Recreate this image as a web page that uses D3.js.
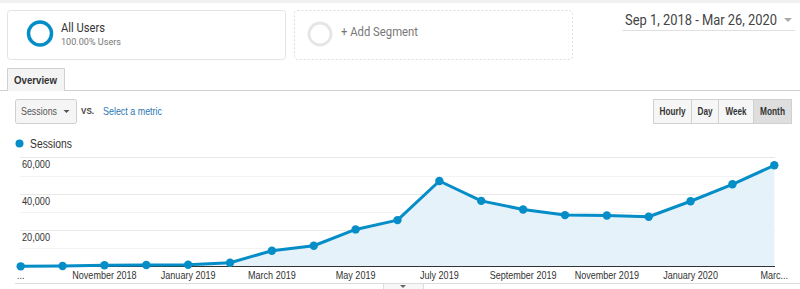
<!DOCTYPE html>
<html>
<head>
<meta charset="utf-8">
<script src="https://cdn.jsdelivr.net/npm/d3@7"></script>
<style>
  body { margin: 0; background: #fff; }
  svg { display: block; }
</style>
</head>
<body>
<script>
// monthly sessions, Sep 2018 - Mar 2020
var months = ["Sep 2018", "Oct 2018", "Nov 2018", "Dec 2018", "Jan 2019", "Feb 2019",
  "Mar 2019", "Apr 2019", "May 2019", "Jun 2019", "Jul 2019", "Aug 2019", "Sep 2019",
  "Oct 2019", "Nov 2019", "Dec 2019", "Jan 2020", "Feb 2020", "Mar 2020"];
var sessions = [200, 400, 800, 900, 1100, 2200, 8750, 11500, 20450, 25550, 47000,
  36100, 31400, 28300, 28100, 27400, 35900, 45200, 55600];
// x axis labels (every other month, the ends get cut off)
var xLabels = ["...", "", "November 2018", "", "January 2019", "", "March 2019", "",
  "May 2019", "", "July 2019", "", "September 2019", "", "November 2019", "",
  "January 2020", "", "Marc..."];
var yTicks = [20000, 40000, 60000];
var gridTicks = [10000, 20000, 30000, 40000, 50000, 60000];

const W = 800, H = 289;
const blue = "#058dc7";

const svg = d3.select("body").append("svg")
  .attr("width", W)
  .attr("height", H);

// squeeze a text to the width it has in the screenshot
function fit(sel, w) {
  return sel.attr("textLength", w).attr("lengthAdjust", "spacingAndGlyphs");
}

// --- header bits ---
svg.append("rect").attr("x", 0).attr("y", 0).attr("width", W).attr("height", 3).attr("fill", "#f0f0f0");

// All Users segment box
svg.append("rect").attr("x", 7.5).attr("y", 10.5).attr("width", 278).attr("height", 49)
  .attr("rx", 3).attr("fill", "#fff").attr("stroke", "#e3e3e3");
svg.append("circle").attr("cx", 40).attr("cy", 33.5).attr("r", 11.5)
  .attr("fill", "none").attr("stroke", blue).attr("stroke-width", 3.5);
fit(svg.append("text").attr("x", 61).attr("y", 32).text("All Users")
  .attr("font-family", "Roboto").attr("font-size", 12.5).attr("fill", "#333"), 44);
fit(svg.append("text").attr("x", 61).attr("y", 44.5).text("100.00% Users")
  .attr("font-family", "Roboto").attr("font-size", 9.5).attr("fill", "#777"), 60);

// Add Segment box
svg.append("rect").attr("x", 294.5).attr("y", 10.5).attr("width", 278).attr("height", 49)
  .attr("rx", 3).attr("fill", "#fff").attr("stroke", "#dcdcdc").attr("stroke-dasharray", "2,2");
svg.append("circle").attr("cx", 320).attr("cy", 34).attr("r", 11)
  .attr("fill", "none").attr("stroke", "#e6e6e6").attr("stroke-width", 3);
fit(svg.append("text").attr("x", 341).attr("y", 36).text("+ Add Segment")
  .attr("font-family", "Roboto").attr("font-size", 12.5).attr("fill", "#777"), 77);

// date range
fit(svg.append("text").attr("x", 625).attr("y", 25).text("Sep 1, 2018 - Mar 26, 2020")
  .attr("font-family", "Roboto").attr("font-size", 14).attr("fill", "#444"), 152);
svg.append("path").attr("d", "M784,18 L792,18 L788,22 Z").attr("fill", "#aaa");
svg.append("line").attr("x1", 622).attr("x2", 795).attr("y1", 30.5).attr("y2", 30.5).attr("stroke", "#e0e0e0");

// Overview tab
svg.append("line").attr("x1", 0).attr("x2", W).attr("y1", 90.5).attr("y2", 90.5).attr("stroke", "#d0d0d0");
svg.append("path").attr("d", "M7.5,91 L7.5,68.5 L64.5,68.5 L64.5,91")
  .attr("fill", "#f4f4f4").attr("stroke", "#d0d0d0");
fit(svg.append("text").attr("x", 14).attr("y", 84).text("Overview")
  .attr("font-family", "Liberation Sans").attr("font-size", 11.5).attr("font-weight", "bold").attr("fill", "#333"), 43);

// metric dropdown
svg.append("rect").attr("x", 15.5).attr("y", 99.5).attr("width", 61).attr("height", 24)
  .attr("rx", 2).attr("fill", "#f5f5f5").attr("stroke", "#cfcfcf");
fit(svg.append("text").attr("x", 21).attr("y", 115).text("Sessions")
  .attr("font-family", "Liberation Sans").attr("font-size", 10.5).attr("fill", "#555"), 36);
svg.append("path").attr("d", "M63.5,110 L69.5,110 L66.5,113 Z").attr("fill", "#555");
fit(svg.append("text").attr("x", 81).attr("y", 114).text("VS.")
  .attr("font-family", "Liberation Sans").attr("font-size", 9).attr("font-weight", "bold").attr("fill", "#444"), 13);
fit(svg.append("text").attr("x", 103).attr("y", 115).text("Select a metric")
  .attr("font-family", "Liberation Sans").attr("font-size", 10.5).attr("fill", "#2b76b3"), 59);

// Hourly / Day / Week / Month
var btns = [["Hourly", 653, 691, 26], ["Day", 691, 718, 15], ["Week", 718, 753, 21], ["Month", 753, 791, 25]];
btns.forEach(function(b, i) {
  svg.append("rect").attr("x", b[1] + 0.5).attr("y", 99.5).attr("width", b[2] - b[1]).attr("height", 24)
    .attr("fill", i == 3 ? "#dedede" : "#f6f6f6").attr("stroke", "#d0d0d0");
  fit(svg.append("text").attr("x", (b[1] + b[2]) / 2 + 0.5 - b[3] / 2).attr("y", 115).text(b[0])
    .attr("font-family", "Liberation Sans").attr("font-size", 10)
    .attr("font-weight", "bold").attr("fill", "#333"), b[3]);
});

// legend
svg.append("circle").attr("cx", 19.5).attr("cy", 143.5).attr("r", 4).attr("fill", blue);
fit(svg.append("text").attr("x", 30).attr("y", 148).text("Sessions")
  .attr("font-family", "Liberation Sans").attr("font-size", 12).attr("fill", "#333"), 42);

// --- chart ---
var x = d3.scalePoint().domain(months).range([20.7, 774.3]);
var y = d3.scaleLinear().domain([0, 60000]).range([266.7, 157.3]);

var g = svg.append("g");

// gridlines
g.selectAll("line.grid").data(gridTicks).enter().append("line")
  .attr("class", "grid")
  .attr("x1", 20).attr("x2", 775)
  .attr("y1", function(d) { return Math.round(y(d)) + 0.5; })
  .attr("y2", function(d) { return Math.round(y(d)) + 0.5; })
  .attr("stroke", function(d) { return d % 20000 == 0 ? "#e8e8e8" : "#f3f3f3"; });

// area
var area = d3.area()
  .x(function(d, i) { return x(months[i]); })
  .y0(y(0))
  .y1(function(d) { return y(d); });
g.append("path").datum(sessions).attr("d", area).attr("fill", "#e6f2f9");

// baseline
g.append("line").attr("x1", 20).attr("x2", 775).attr("y1", 266.5).attr("y2", 266.5)
  .attr("stroke", "#333").attr("stroke-width", 1);

// y labels
g.selectAll("text.ylab").data(yTicks).enter().append("text")
  .attr("class", "ylab")
  .attr("x", 22).attr("y", function(d) { return y(d) + 11; })
  .attr("font-family", "Liberation Sans").attr("font-size", 10).attr("fill", "#333")
  .attr("textLength", 28).attr("lengthAdjust", "spacingAndGlyphs")
  .text(function(d) { return d3.format(",")(d); });

// line
var line = d3.line()
  .x(function(d, i) { return x(months[i]); })
  .y(function(d) { return y(d); });
g.append("path").datum(sessions).attr("d", line)
  .attr("fill", "none").attr("stroke", blue).attr("stroke-width", 3).attr("stroke-linejoin", "round");

// points
g.selectAll("circle.pt").data(sessions).enter().append("circle")
  .attr("class", "pt")
  .attr("cx", function(d, i) { return x(months[i]); })
  .attr("cy", function(d) { return y(d); })
  .attr("r", 4.2).attr("fill", blue);

// x labels
g.selectAll("text.xlab").data(months).enter().append("text")
  .attr("class", "xlab")
  .attr("x", function(d) { return x(d); })
  .attr("y", 279)
  .attr("text-anchor", "middle")
  .attr("font-family", "Liberation Sans").attr("font-size", 10.5).attr("fill", "#333")
  .text(function(d, i) { return xLabels[i]; })
  .each(function() {
    // the screenshot's labels are a bit narrower than Liberation Sans
    var w = this.getComputedTextLength();
    if (w > 0) d3.select(this).attr("textLength", w * 0.86).attr("lengthAdjust", "spacingAndGlyphs");
  });

// bottom line + little expander tab
svg.append("line").attr("x1", 15).attr("x2", W).attr("y1", 283.5).attr("y2", 283.5).attr("stroke", "#dcdcdc");
svg.append("rect").attr("x", 383.5).attr("y", 283.5).attr("width", 40).attr("height", 10)
  .attr("fill", "#f7f7f7").attr("stroke", "#dcdcdc");
svg.append("path").attr("d", "M400,285 L406,285 L403,288 Z").attr("fill", "#666");
</script>
</body>
</html>
